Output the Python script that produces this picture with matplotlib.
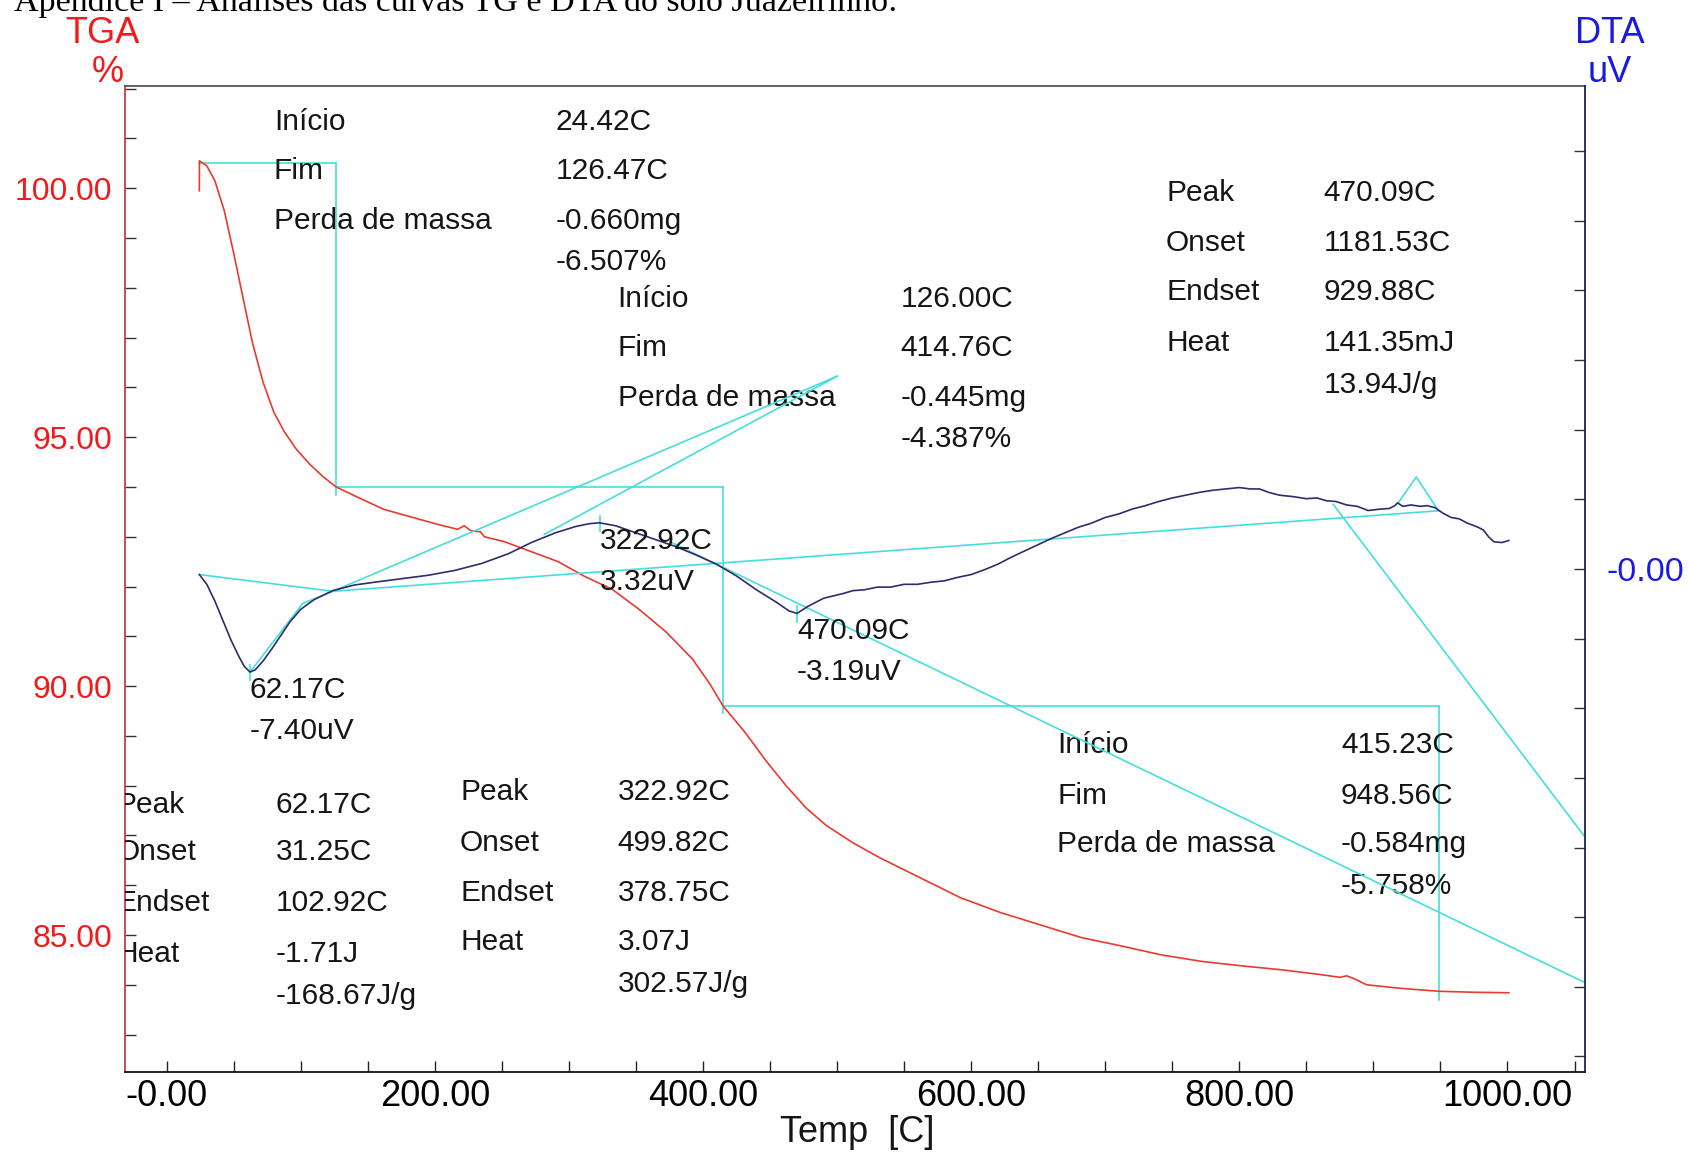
import matplotlib
matplotlib.use("Agg")
import matplotlib.pyplot as plt
from matplotlib.ticker import FixedLocator, MultipleLocator, FuncFormatter

# TGA curve: temperature (C) and residual mass (%)
tga_temp = [24.42, 24.5, 30, 36, 43, 50, 57, 64, 72, 80, 88, 97, 107, 117, 126.47,
            142, 162, 182, 202, 217, 222, 227, 234, 237, 252, 272, 292, 312, 332,
            352, 372, 392, 405, 414.76, 432, 447, 462, 477, 492, 512, 532, 562,
            592, 622, 652, 682, 712, 742, 772, 802, 832, 862, 875, 880, 885, 895,
            920, 948.56, 975, 1001]
tga_mass = [99.95, 100.55, 100.45, 100.15, 99.55, 98.7, 97.8, 96.9, 96.1, 95.5,
            95.1, 94.75, 94.45, 94.2, 94.0, 93.8, 93.55, 93.4, 93.25, 93.15, 93.22,
            93.12, 93.1, 93.0, 92.9, 92.7, 92.5, 92.2, 91.95, 91.55, 91.1, 90.55,
            90.05, 89.61, 89.05, 88.5, 88.0, 87.55, 87.2, 86.85, 86.55, 86.15,
            85.75, 85.45, 85.2, 84.95, 84.78, 84.6, 84.47, 84.38, 84.3, 84.2,
            84.15, 84.18, 84.13, 84.0, 83.93, 83.87, 83.85, 83.84]

# DTA curve: temperature (C) and signal (uV)
dta_temp = [24.42, 30, 36, 42, 48, 54, 58, 62.17, 66, 72, 78, 85, 92, 100, 110,
            124, 140, 155, 175, 195, 215, 235, 255, 272, 290, 305, 315, 322.92,
            335, 350, 365, 380, 395, 410, 425, 440, 455, 464, 470.09, 478, 490,
            505, 512, 520, 530, 540, 550, 560, 570, 580, 590, 600, 610, 620, 630,
            640, 650, 660, 670, 680, 690, 700, 710, 720, 730, 740, 750, 760, 770,
            780, 790, 800, 808, 815, 822, 830, 840, 850, 858, 865, 872, 880, 888,
            896, 905, 912, 916, 918, 922, 928, 935, 940, 946, 952, 958, 964, 970,
            978, 982, 986, 990, 996, 1001]
dta_signal = [-0.40, -1.1, -2.3, -3.7, -5.1, -6.3, -7.0, -7.40, -7.25, -6.6, -5.8,
              -4.8, -3.8, -2.9, -2.2, -1.55, -1.15, -0.95, -0.7, -0.45, -0.1, 0.4,
              1.1, 1.9, 2.6, 3.05, 3.25, 3.32, 3.1, 2.6, 2.1, 1.6, 1.0, 0.35, -0.5,
              -1.5, -2.4, -3.0, -3.19, -2.7, -2.1, -1.75, -1.55, -1.5, -1.3, -1.3,
              -1.1, -1.1, -0.95, -0.85, -0.6, -0.4, -0.05, 0.35, 0.85, 1.3, 1.75,
              2.2, 2.6, 3.0, 3.3, 3.7, 3.95, 4.3, 4.55, 4.85, 5.1, 5.3, 5.5, 5.65,
              5.75, 5.85, 5.75, 5.75, 5.5, 5.3, 5.2, 5.05, 5.1, 4.9, 4.85, 4.6, 4.5,
              4.2, 4.3, 4.35, 4.55, 4.75, 4.5, 4.6, 4.5, 4.55, 4.4, 4.0, 3.7, 3.6,
              3.3, 3.0, 2.8, 2.3, 1.95, 1.9, 2.05]

# mass-loss steps
step_start = [24.42, 126.00, 415.23]
step_end = [126.47, 414.76, 948.56]
step_loss_mg = [-0.660, -0.445, -0.584]
step_loss_pct = [-6.507, -4.387, -5.758]
mass_start = 100.50

# DTA peaks
peak_temp = [62.17, 322.92, 470.09]
peak_signal = [-7.40, 3.32, -3.19]
peak_onset = [31.25, 499.82, 1181.53]
peak_endset = [102.92, 378.75, 929.88]
peak_heat = ["-1.71J", "3.07J", "141.35mJ"]
peak_heat_g = [-168.67, 302.57, 13.94]

# tangent / baseline construction lines on the DTA trace
guide_temp = [[24.42, 124.0], [62.17, 101.5, 124.0], [124.0, 500.2],
              [281.6, 500.2], [124.0, 948.56], [375.3, 1056.5],
              [870.0, 1058.0], [918.3, 932.0, 948.56]]
guide_signal = [[-0.40, -1.60], [-7.40, -2.48, -1.60], [-1.60, 13.85],
                [2.48, 13.85], [-1.60, 4.18], [1.96, -29.64],
                [4.64, -19.27], [4.72, 6.61, 4.18]]

RED = "#ea3a30"
RED_AX = "#c83a4c"
RED_TXT = "#f21a1a"
NAVY = "#2e2d6c"
NAVY_AX = "#1f1f60"
BLUE_TXT = "#1a1ae0"
CYAN = "#45dede"
TXT = "#151515"

plt.rcParams["font.family"] = ["Liberation Sans", "DejaVu Sans"]

fig = plt.figure(figsize=(16.9, 11.54), dpi=100)
ax = fig.add_axes([0.0739, 0.0707, 0.8642, 0.8546])
ax2 = ax.twinx()

ax.set_xlim(-31.1, 1058.1)
ax.set_ylim(82.24, 102.05)
ax2.set_ylim(-36.15, 34.67)

# guide lines
for gx, gy in zip(guide_temp, guide_signal):
    ax2.plot(gx, gy, color=CYAN, lw=1.2, zorder=2)
for t, s in zip(peak_temp, peak_signal):
    ax2.plot([t, t], [s + 0.5, s - 0.6], color=CYAN, lw=1.2, zorder=2)

level = mass_start
for i in range(3):
    nxt = level + step_loss_pct[i]
    x0 = step_start[i] if i != 1 else step_end[i - 1]
    ax.plot([x0, step_end[i]], [level, level], color=CYAN, lw=1.2, zorder=2)
    ax.plot([step_end[i], step_end[i]], [level, nxt - 0.15], color=CYAN, lw=1.2, zorder=2)
    level = nxt

ax.plot(tga_temp, tga_mass, color=RED, lw=1.2, zorder=3)
ax2.plot(dta_temp, dta_signal, color=NAVY, lw=1.2, zorder=3)

# spines
for side in ["left", "right", "top", "bottom"]:
    ax.spines[side].set_linewidth(1.3)
    ax2.spines[side].set_linewidth(1.3)
ax.spines["left"].set_color(RED_AX)
ax.spines["right"].set_visible(False)
ax.spines["top"].set_color("#555555")
ax.spines["bottom"].set_color("#111111")
ax2.spines["right"].set_color(NAVY_AX)
for side in ["left", "top", "bottom"]:
    ax2.spines[side].set_visible(False)

# ticks
ax.xaxis.set_major_locator(FixedLocator([0, 200, 400, 600, 800, 1000]))
ax.xaxis.set_minor_locator(MultipleLocator(50))
ax.xaxis.set_major_formatter(FuncFormatter(lambda v, p: "-0.00" if v == 0 else f"{v:.2f}"))
ax.tick_params(axis="x", which="both", direction="in", length=8, width=1, color="#222222",
               labelsize=26, pad=5, top=False)
ax.yaxis.set_major_locator(FixedLocator([85, 90, 95, 100]))
ax.yaxis.set_minor_locator(MultipleLocator(1))
ax.yaxis.set_major_formatter(FuncFormatter(lambda v, p: f"{v:.2f}"))
ax.tick_params(axis="y", which="both", direction="in", length=8, width=1, color="#333333",
               labelsize=23, labelcolor=RED_TXT, pad=9)
ax2.yaxis.set_major_locator(FixedLocator([0]))
ax2.yaxis.set_minor_locator(MultipleLocator(5))
ax2.yaxis.set_major_formatter(FuncFormatter(lambda v, p: "-0.00"))
ax2.tick_params(axis="y", which="both", direction="in", length=8, width=1, color="#333333",
                labelsize=24.5, labelcolor=BLUE_TXT, pad=15)

# axis titles
fig.text(0.0605, 1 - 43 / 1154, "TGA", color=RED_TXT, fontsize=26, ha="center", va="baseline")
fig.text(0.0635, 1 - 82 / 1154, "%", color=RED_TXT, fontsize=26, ha="center", va="baseline")
fig.text(0.9527, 1 - 43 / 1154, "DTA", color=BLUE_TXT, fontsize=26, ha="center", va="baseline")
fig.text(0.9527, 1 - 82 / 1154, "uV", color=BLUE_TXT, fontsize=26, ha="center", va="baseline")
fig.text(0.507, 1 - 1142 / 1154, "Temp  [C]", color=TXT, fontsize=26, ha="center", va="baseline")
fig.text(0.008, 1 - 11 / 1154, "Apêndice I – Análises das curvas TG e DTA do solo Juazeirinho:",
         color="black", fontsize=24.5, family=["Liberation Serif", "DejaVu Serif"],
         ha="left", va="baseline")

FS = 21.5


def block(x_lab, x_val, rows, labels, values):
    for i, v in enumerate(values):
        if i < len(labels):
            ax.text(x_lab, rows[i], labels[i], fontsize=FS, color=TXT, va="center", ha="left", clip_on=True)
        ax.text(x_val, rows[i], v, fontsize=FS, color=TXT, va="center", ha="left", clip_on=True)


step_labels = ["Início", "Fim", "Perda de massa"]
peak_labels = ["Peak", "Onset", "Endset", "Heat"]

step_pos = [(80, 290.4, [101.33, 100.34, 99.34, 98.52]),
            (336.3, 547.6, [97.78, 96.79, 95.79, 94.97]),
            (664.2, 875.8, [88.82, 87.80, 86.83, 85.98])]
for i, (xl, xv, rows) in enumerate(step_pos):
    vals = [f"{step_start[i]:.2f}C", f"{step_end[i]:.2f}C",
            f"{step_loss_mg[i]:.3f}mg", f"{step_loss_pct[i]:.3f}%"]
    block(xl, xv, rows, step_labels, vals)

peak_pos = [(-37.5, 81.4, [87.61, 86.66, 85.64, 84.62, 83.78]),
            (218.9, 336.3, [87.87, 86.85, 85.85, 84.86, 84.01]),
            (745.4, 862.8, [99.91, 98.91, 97.92, 96.90, 96.05])]
for i, (xl, xv, rows) in enumerate(peak_pos):
    vals = [f"{peak_temp[i]:.2f}C", f"{peak_onset[i]:.2f}C", f"{peak_endset[i]:.2f}C",
            peak_heat[i], f"{peak_heat_g[i]:.2f}J/g"]
    block(xl, xv, rows, peak_labels, vals)

for t, s in zip(peak_temp, peak_signal):
    ax2.annotate(f"{t:.2f}C", (t, s), xytext=(0, -13), textcoords="offset points",
                 fontsize=FS, color=TXT, va="center", ha="left")
    ax2.annotate(f"{s:.2f}uV", (t, s), xytext=(0, -42.5), textcoords="offset points",
                 fontsize=FS, color=TXT, va="center", ha="left")

fig.savefig("out.png", dpi=100)
